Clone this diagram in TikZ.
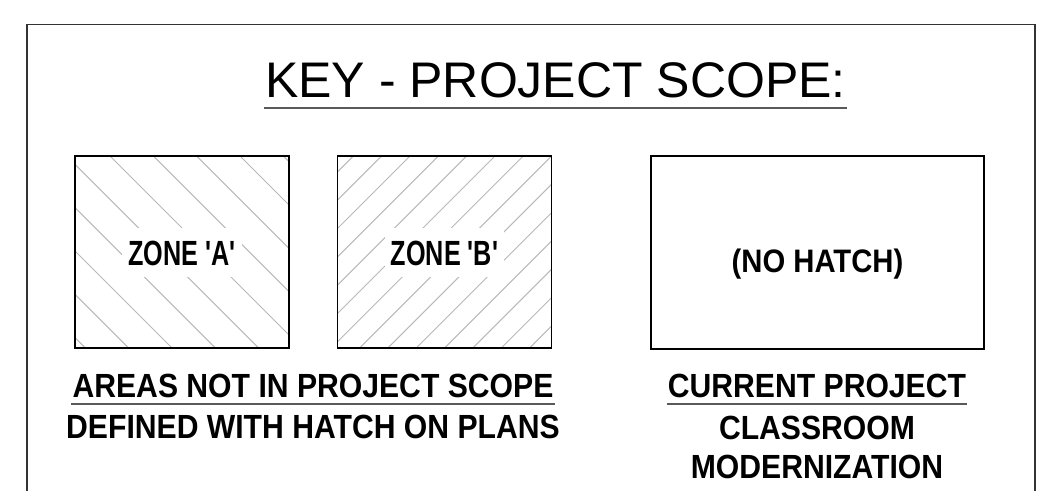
\documentclass[tikz,border=0pt]{standalone}
\usepackage{fontspec}
\usepackage{tikz}
\usetikzlibrary{backgrounds}
\setmainfont{Liberation Sans}
\newfontfamily\zonefont{Liberation Sans}[FakeStretch=0.72]
\newfontfamily\notefont{Liberation Sans}[FakeStretch=0.9]

\begin{document}
\begin{tikzpicture}[x=1pt,y=-1pt,
  frame/.style={draw=black!80,line width=1.4pt},
  zonebox/.style={draw=black,line width=1.3pt,outer sep=0pt,minimum width=214pt,minimum height=192pt},
  scopebox/.style={draw=black,line width=2pt,outer sep=0pt,minimum width=333pt,minimum height=193pt},
  hatchline/.style={draw=black!28,line width=1pt},
  zonelabel/.style={fill=white,inner xsep=6pt,inner ysep=0pt,text height=37pt,text depth=12pt,
    font=\zonefont\bfseries\fontsize{35}{40}\selectfont},
  note/.style={inner sep=0pt,font=\notefont\bfseries\fontsize{33.5}{40}\selectfont},
  keyline/.style={draw=black!65,line width=1.6pt}]
\useasboundingbox (0,0) rectangle (1049,490);

% outer sheet border, runs off the bottom
\draw[frame] (27,492) |- (1035,24.5) -- (1035,492);

% heading
\node[inner sep=0pt,anchor=base,font=\fontsize{50}{60}\selectfont] (title) at (555.5,97) {KEY - PROJECT SCOPE:};
\draw[keyline,line width=2pt] ([xshift=-1pt,yshift=-11pt]title.base west) -- ([xshift=1pt,yshift=-11pt]title.base east);

% hatched zones
\node[zonebox] (zoneA) at (182,252) {};
\node[zonebox] (zoneB) at (444.5,252) {};
\begin{scope}[on background layer]
  \begin{scope}
    \clip (zoneA.north west) rectangle (zoneA.south east);
    \foreach \k in {-5,...,4}
      \draw[hatchline] (110+43.33*\k,156) -- ++(200,200);
  \end{scope}
  \begin{scope}
    \clip (zoneB.north west) rectangle (zoneB.south east);
    \foreach \k in {-1,...,14}
      \draw[hatchline] (353.3+28.33*\k,156) -- ++(-200,200);
  \end{scope}
\end{scope}
\node[zonelabel,anchor=base] (labelA) at (zoneA |- 0,265) {ZONE 'A'};
\node[zonelabel,anchor=base] (labelB) at (zoneB |- 0,265) {ZONE 'B'};

% current project
\node[scopebox] (current) at (817.5,252.5) {};
\node[note,anchor=base,font=\notefont\bfseries\fontsize{32.5}{40}\selectfont] (nohatch) at (current |- 0,272) {(NO HATCH)};

% captions
\node[note,anchor=base] (outA) at (313,397) {AREAS NOT IN PROJECT SCOPE};
\node[note,anchor=base] (outB) at (313,438) {DEFINED WITH HATCH ON PLANS};
\draw[keyline] ([xshift=-1pt,yshift=-7pt]outA.base west) -- ([xshift=1pt,yshift=-7pt]outA.base east);

\node[note,anchor=base] (curA) at (817,397) {CURRENT PROJECT};
\node[note,anchor=base] (curB) at (817,439) {CLASSROOM};
\node[note,anchor=base] (curC) at (817,478) {MODERNIZATION};
\draw[keyline] ([xshift=-1pt,yshift=-7pt]curA.base west) -- ([xshift=1pt,yshift=-7pt]curA.base east);
\end{tikzpicture}
\end{document}
